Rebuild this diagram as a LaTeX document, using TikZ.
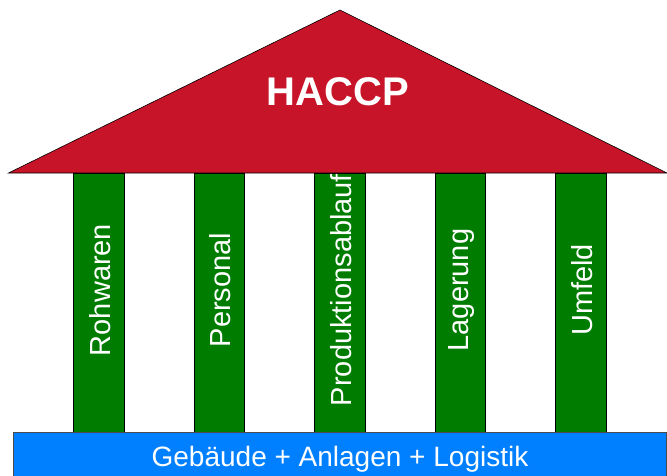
\documentclass[tikz,border=0pt]{standalone}
\usepackage{fontspec}
\setmainfont{Liberation Sans}
\definecolor{roofred}{RGB}{200,20,40}
\definecolor{pillargreen}{RGB}{0,125,0}
\definecolor{baseblue}{RGB}{0,128,255}
\begin{document}
\begin{tikzpicture}[x=1pt,y=-1pt,
  roofshape/.style={fill=roofred,draw=black,line width=0.6pt},
  pillar/.style={fill=pillargreen,draw=black,line width=0.6pt,minimum width=50.5pt,minimum height=259pt,inner sep=0pt,anchor=north,
     font=\fontsize{29}{29}\selectfont,text=white},
  basebox/.style={fill=baseblue,draw=black!70,line width=0.6pt},
  pillarlabel/.style={rotate=90,text=white,font=\fontsize{29}{29}\selectfont,inner sep=0pt}]
\useasboundingbox (0,0) rectangle (667,475);
% roof
\coordinate (apex) at (340,10);
\coordinate (rl) at (8.5,173);
\coordinate (rr) at (667,173);
\draw[roofshape] (rl) -- (apex) -- (rr) -- cycle;
\node[text=white,font=\bfseries\fontsize{40}{40}\selectfont,inner sep=0pt] (haccp) at (338,92) {HACCP};
% pillars
\foreach \name/\x/\lab in {p1/98.8/Rohwaren, p2/219.3/Personal, p3/339.8/Produktionsablauf, p4/460.5/Lagerung, p5/581/Umfeld}{
  \draw[fill=pillargreen,draw=black,line width=0.6pt] (\x-25.25,173) rectangle (\x+25.25,432.7);
  \node[pillarlabel] (\name) at (\x+1,290) {\lab};
}
% base
\draw[basebox] (13.6,432.7) rectangle (666.5,480);
\node[text=white,font=\fontsize{28}{28}\selectfont,inner sep=0pt,anchor=base] (base) at (340,466.5) {Gebäude + Anlagen + Logistik};
\end{tikzpicture}
\end{document}
